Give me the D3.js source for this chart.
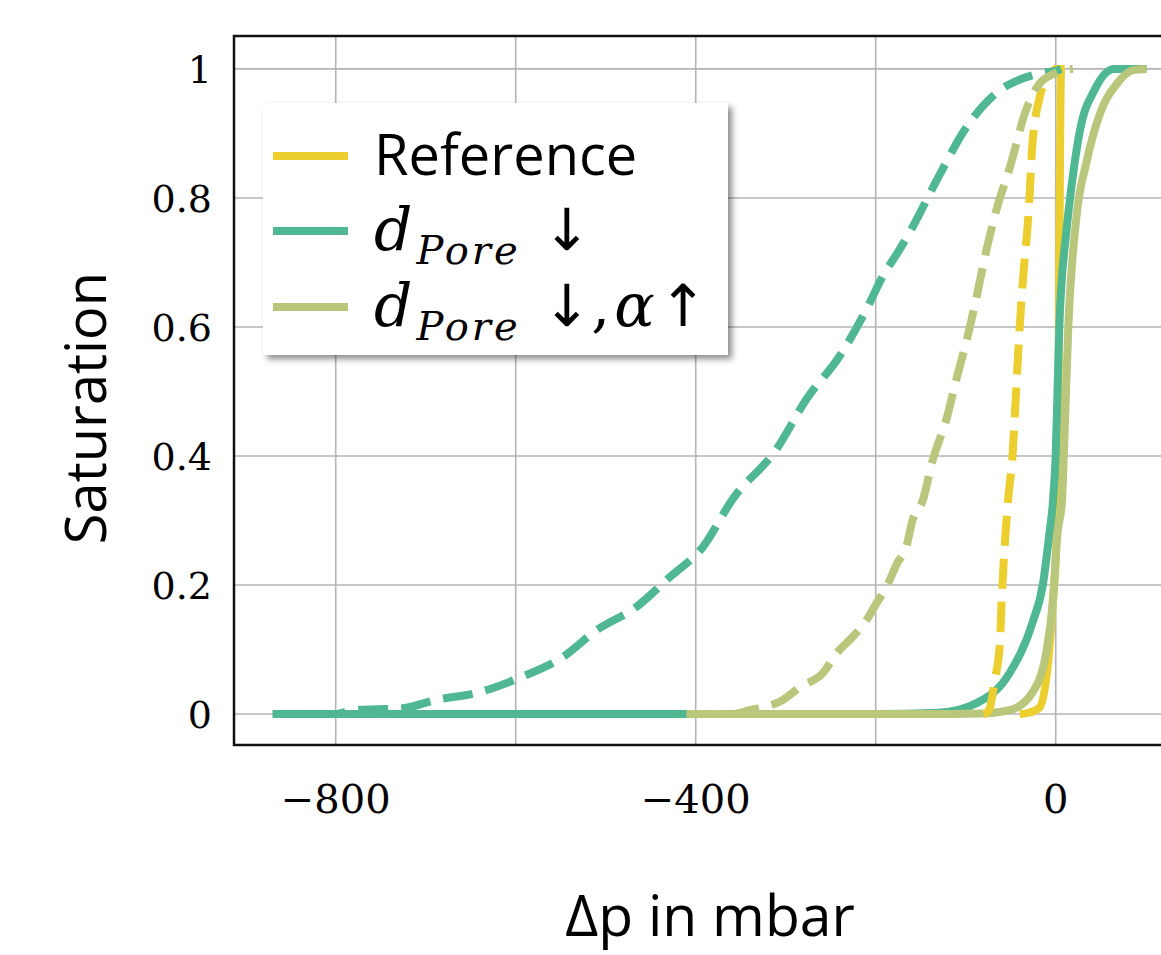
<!DOCTYPE html>
<html>
<head>
<meta charset="utf-8">
<script src="https://cdn.jsdelivr.net/npm/d3@7"></script>
<style>
  body { margin: 0; background: #fff; }
  svg { display: block; }
</style>
</head>
<body>
<svg id="chart" width="1161" height="955"></svg>
<script>
// values (mbar, saturation)
var refSolidX = [-40, -30, -18, -9, -3, 1, 3, 4, 5, 6, 10];
var refSolidY = [0, 0.002, 0.01, 0.073, 0.177, 0.28, 0.45, 0.7, 0.9, 1.0, 1.0];
var refDashX = [-80, -76, -73, -68, -62, -60, -57, -53, -48, -44, -40, -36, -30, -26, -18, -9, 1, 8];
var refDashY = [0, 0.003, 0.01, 0.05, 0.11, 0.177, 0.254, 0.33, 0.4, 0.5, 0.6, 0.68, 0.78, 0.88, 0.955, 0.986, 1.0, 1.0];

var poreSolidX = [-870, -200, -130, -88, -51, -26, -14, -7, -3, 0, 4, 12, 16, 27, 43, 65, 101];
var poreSolidY = [0, 0, 0.002, 0.017, 0.064, 0.141, 0.203, 0.28, 0.33, 0.4, 0.6, 0.75, 0.8, 0.905, 0.967, 1.0, 1.0];
var poreDashX = [-870, -800, -781, -726, -688, -640, -596, -548, -510, -466, -429, -392, -359, -310, -277, -240, -210, -192, -173, -159, -132, -99, -62, -37, -14, 0, 6];
var poreDashY = [0, 0, 0.006, 0.009, 0.022, 0.034, 0.056, 0.088, 0.130, 0.166, 0.212, 0.259, 0.333, 0.411, 0.488, 0.555, 0.628, 0.679, 0.721, 0.755, 0.828, 0.91, 0.967, 0.985, 0.994, 0.997, 1.0];

var alphaSolidX = [-410, -150, -80, -51, -26, -10, -3, 2, 7, 9, 14, 23, 34, 49, 68, 86, 101];
var alphaSolidY = [0, 0, 0.001, 0.006, 0.033, 0.099, 0.177, 0.28, 0.33, 0.4, 0.6, 0.77, 0.854, 0.93, 0.977, 0.998, 1.0];
var alphaDashX = [-410, -360, -340, -303, -284, -259, -243, -226, -210, -199, -188, -176, -166, -159, -148, -137, -121, -110, -99, -88, -77, -66, -51, -32, -18, 1, 19];
var alphaDashY = [0, 0, 0.006, 0.022, 0.042, 0.063, 0.095, 0.119, 0.146, 0.172, 0.197, 0.234, 0.259, 0.301, 0.33, 0.392, 0.459, 0.521, 0.579, 0.646, 0.719, 0.781, 0.847, 0.940, 0.977, 0.994, 1.0];

var xTicks = [-800, -400, 0];
var xGrid = [-800, -600, -400, -200, 0];
var yTicks = [0, 0.2, 0.4, 0.6, 0.8, 1];
var yTickLabels = ['0', '0.2', '0.4', '0.6', '0.8', '1'];

var colors = { ref: '#eccf2f', pore: '#4fb892', alpha: '#b9c77c' };

function zip(xs, ys) {
    return xs.map(function (x, i) { return { x: x, y: ys[i] }; });
}

var svg = d3.select('#chart');
svg.append('rect').attr('width', 1161).attr('height', 955).attr('fill', '#fff');

var plotLeft = 234, plotTop = 36, plotBottom = 745;
var x = d3.scaleLinear().domain([-913, 125]).range([plotLeft, plotLeft + 1038 * 0.9]);
var y = d3.scaleLinear().domain([-0.048, 1.051]).range([plotBottom, plotTop]);
var plotRight = x(125);

svg.append('clipPath').attr('id', 'clip')
    .append('rect').attr('x', plotLeft).attr('y', plotTop)
    .attr('width', plotRight - plotLeft).attr('height', plotBottom - plotTop);

// grid
var grid = svg.append('g').attr('stroke', '#b4b4b4').attr('stroke-width', 1.6);
grid.selectAll('line.v').data(xGrid).enter().append('line')
    .attr('x1', function (d) { return x(d); }).attr('x2', function (d) { return x(d); })
    .attr('y1', plotTop).attr('y2', plotBottom);
grid.selectAll('line.h').data(yTicks).enter().append('line')
    .attr('y1', function (d) { return y(d); }).attr('y2', function (d) { return y(d); })
    .attr('x1', plotLeft).attr('x2', plotRight);

// curves
var line = d3.line()
    .x(function (d) { return x(d.x); })
    .y(function (d) { return y(d.y); })
    .curve(d3.curveMonotoneX);

var series = [
    { xs: refSolidX, ys: refSolidY, c: colors.ref, dash: null },
    { xs: poreSolidX, ys: poreSolidY, c: colors.pore, dash: null },
    { xs: alphaSolidX, ys: alphaSolidY, c: colors.alpha, dash: null },
    { xs: refDashX, ys: refDashY, c: colors.ref, dash: '30,13' },
    { xs: poreDashX, ys: poreDashY, c: colors.pore, dash: '30,13' },
    { xs: alphaDashX, ys: alphaDashY, c: colors.alpha, dash: '30,13' }
];
var plot = svg.append('g').attr('clip-path', 'url(#clip)');
series.forEach(function (s) {
    plot.append('path')
        .attr('d', line(zip(s.xs, s.ys)))
        .attr('fill', 'none')
        .attr('stroke', s.c)
        .attr('stroke-width', 8)
        .attr('stroke-dasharray', s.dash)
        .attr('stroke-linejoin', 'round');
});

// frame (right side is outside the picture)
svg.append('path')
    .attr('d', 'M' + (plotRight + 20) + ',' + plotTop + 'H' + plotLeft + 'V' + plotBottom + 'H' + (plotRight + 20))
    .attr('fill', 'none').attr('stroke', '#111').attr('stroke-width', 2.5);

// tick labels
svg.append('g').selectAll('text').data(yTicks).enter().append('text')
    .attr('x', 212).attr('y', function (d) { return y(d); })
    .attr('dy', '0.36em')
    .attr('text-anchor', 'end')
    .style('font-family', 'DejaVu Serif').style('font-size', '38px')
    .text(function (d, i) { return yTickLabels[i]; });
svg.append('g').selectAll('text').data(xTicks).enter().append('text')
    .attr('x', function (d) { return x(d); }).attr('y', 813)
    .attr('text-anchor', 'middle')
    .style('font-family', 'DejaVu Serif').style('font-size', '40px')
    .text(function (d) { return d < 0 ? '\u2212' + Math.abs(d) : d; });

// axis titles
svg.append('text')
    .attr('transform', 'translate(106,408) rotate(-90)')
    .attr('text-anchor', 'middle')
    .style('font-family', 'Open Sans').style('font-size', '56px')
    .text('Saturation');
svg.append('text')
    .attr('x', 710).attr('y', 936)
    .attr('text-anchor', 'middle')
    .style('font-family', 'Open Sans').style('font-size', '57px')
    .text('\u0394p in mbar');

// legend
var defs = svg.append('defs');
var f = defs.append('filter').attr('id', 'shadow').attr('x', '-10%').attr('y', '-10%').attr('width', '130%').attr('height', '130%');
f.append('feDropShadow').attr('dx', 4).attr('dy', 4).attr('stdDeviation', 3)
    .attr('flood-color', '#000').attr('flood-opacity', 0.45);

var legend = svg.append('g');
legend.append('rect')
    .attr('x', 263).attr('y', 103).attr('width', 465).attr('height', 252)
    .attr('fill', '#fff').attr('filter', 'url(#shadow)');

var legendRows = [
    { c: colors.ref, y: 156 },
    { c: colors.pore, y: 231 },
    { c: colors.alpha, y: 307 }
];
legend.selectAll('line').data(legendRows).enter().append('line')
    .attr('x1', 273).attr('x2', 348)
    .attr('y1', function (d) { return d.y; }).attr('y2', function (d) { return d.y; })
    .attr('stroke', function (d) { return d.c; }).attr('stroke-width', 8);

legend.append('text')
    .attr('x', 374).attr('y', 175)
    .style('font-family', 'Open Sans').style('font-size', '56px')
    .text('Reference');

function mathLabel(yBase, withAlpha) {
    var t = legend.append('text').attr('x', 374).attr('y', yBase)
        .style('font-family', 'DejaVu Serif').style('font-size', '60px');
    t.append('tspan').style('font-style', 'italic').text('d');
    t.append('tspan').attr('dy', 14).attr('dx', 4).style('font-style', 'italic').style('font-size', '40px')
        .style('letter-spacing', '3px').text('Pore');
    t.append('tspan').attr('dy', -14).attr('dx', 22).style('font-family', 'DejaVu Sans').style('font-size', '58px').text('\u2193');
    if (withAlpha) {
        t.append('tspan').text(',');
        t.append('tspan').attr('dx', 4).style('font-style', 'italic').text('\u03b1');
        t.append('tspan').attr('dx', 4).style('font-family', 'DejaVu Sans').style('font-size', '58px').text('\u2191');
    }
}
mathLabel(250, false);
mathLabel(326, true);
</script>
</body>
</html>
